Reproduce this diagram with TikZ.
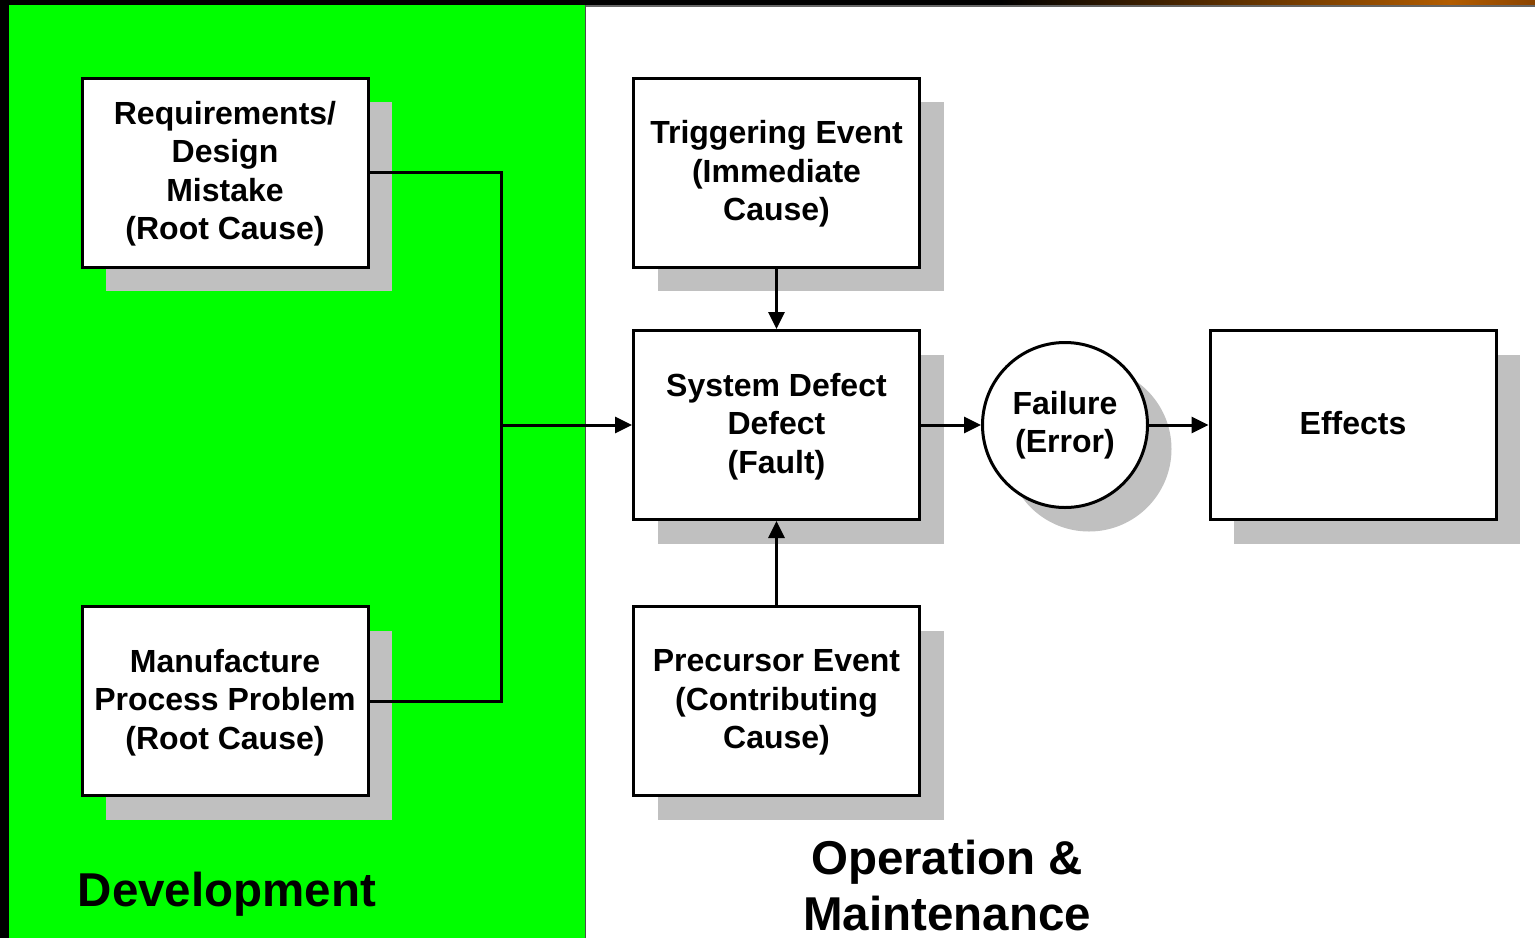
\documentclass[tikz,border=0pt]{standalone}
\usepackage{fontspec}
\setmainfont{Liberation Sans}
\usetikzlibrary{shadows,arrows.meta}
\definecolor{devgreen}{HTML}{00FF00}
\definecolor{shadowgray}{HTML}{C0C0C0}
\definecolor{barorange}{HTML}{B25C00}
\definecolor{bardark}{HTML}{8A4300}
\begin{document}
\begin{tikzpicture}[x=1pt,y=-1pt,
  boxnode/.style={draw, line width=3pt, fill=white, minimum width=286pt, minimum height=189pt,
    align=center, font=\fontsize{32}{38.5}\selectfont\bfseries, inner sep=0pt, text depth=4pt,
    general shadow={shadow xshift=24pt, shadow yshift=-24pt, fill=shadowgray}},
  circnode/.style={circle, draw, line width=3pt, fill=white, minimum size=165pt,
    align=center, font=\fontsize{32}{38.5}\selectfont\bfseries, inner sep=0pt,
    general shadow={shadow xshift=24pt, shadow yshift=-24pt, fill=shadowgray}},
  conn/.style={line width=3pt},
  arrowconn/.style={line width=3pt, -{Triangle[length=17pt,width=16pt]}},
  biglabel/.style={align=center, font=\fontsize{47.5}{56}\selectfont\bfseries, inner sep=0pt}
]
\useasboundingbox (0,0) rectangle (1535,938);
% backgrounds
\fill[black] (0,0) rectangle (1535,938);
\fill[white] (585,6) rectangle (1535,938);
\fill[devgreen] (9,5) rectangle (585,938);
\shade[left color=black, right color=barorange] (1000,0) rectangle (1450,5);
\shade[left color=barorange, right color=bardark] (1450,0) rectangle (1535,5);
\fill[black!60] (585,5) rectangle (1535,6.5);
\draw[black!70, line width=1pt] (585,5) -- (585,938);
% nodes
\node[boxnode] (req) at (225,172.5) {Requirements/\\Design\\Mistake\\(Root Cause)};
\node[boxnode] (manuf) at (225,701) {Manufacture\\Process Problem\\(Root Cause)};
\node[boxnode] (trig) at (776.5,172.5) {Triggering Event\\(Immediate\\Cause)};
\node[boxnode] (sys) at (776.5,425) {System Defect\\Defect\\(Fault)};
\node[boxnode] (prec) at (776.5,701) {Precursor Event\\(Contributing\\Cause)};
\node[circnode] (fail) at (1065,425) {Failure\\(Error)};
\node[boxnode] (eff) at (1353,425) {Effects};
\coordinate (junc) at (501,425);
% connectors
\draw[conn] (req.east) -| (junc) |- (manuf.east);
\draw[arrowconn] (junc) -- (sys.west);
\draw[arrowconn] (trig.south) -- (sys.north);
\draw[arrowconn] (prec.north) -- (sys.south);
\draw[arrowconn] (sys.east) -- (fail.west);
\draw[arrowconn] (fail.east) -- (eff.west);
% labels
\node[biglabel] (dev) at (227,894) {Development};
\node[biglabel] (ops) at (947,886) {Operation \&\\Maintenance};
\end{tikzpicture}
\end{document}
